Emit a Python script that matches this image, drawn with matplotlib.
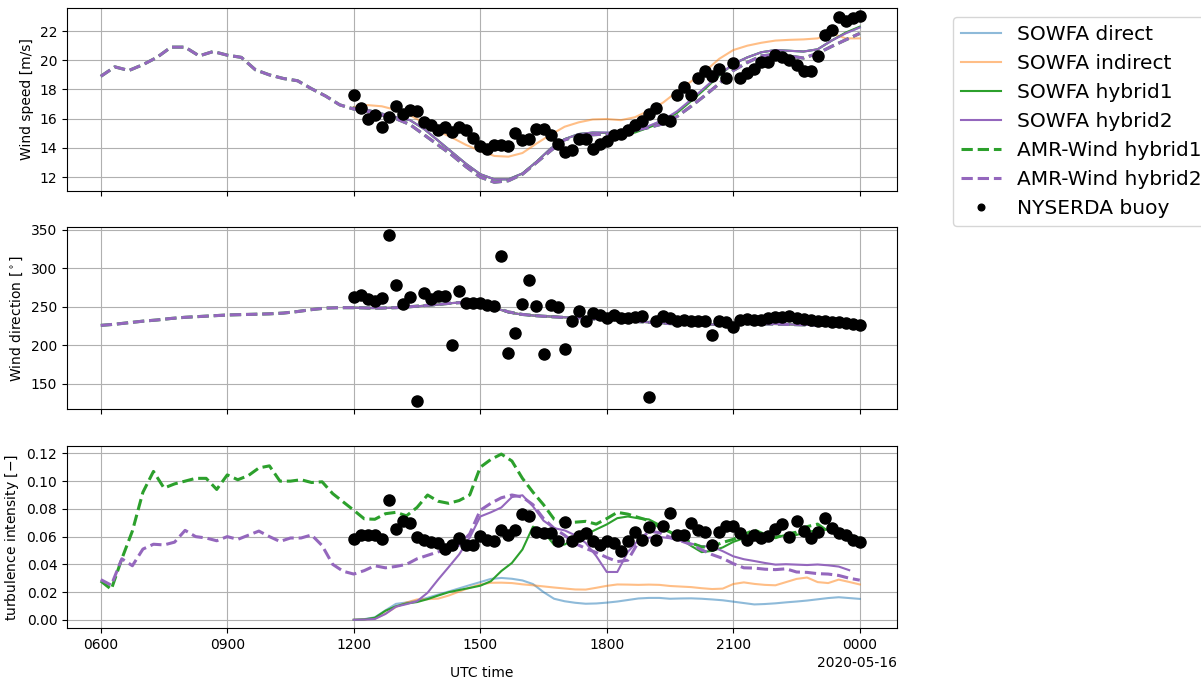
import numpy as np
import pandas as pd
import matplotlib
matplotlib.use('Agg')
import matplotlib.pyplot as plt
import matplotlib.dates as mdates
from matplotlib.ticker import MultipleLocator, FormatStrFormatter

# --- datos ---
# tiempos (UTC, 2020-05-15 -> 2020-05-16)
t_buoy = pd.date_range('2020-05-15 12:00', '2020-05-16 00:00', freq='10min')
t_sowfa = pd.date_range('2020-05-15 12:00', '2020-05-16 00:00', freq='20min')
t_amr = pd.date_range('2020-05-15 06:00', '2020-05-16 00:00', freq='20min')
t_sowfa_ti = pd.date_range('2020-05-15 12:00', '2020-05-16 00:00', freq='15min')
t_amr_ti = pd.date_range('2020-05-15 06:00', '2020-05-16 00:00', freq='15min')

# boya NYSERDA
buoy_ws = [17.6, 16.7, 16.0, 16.25, 15.4, 16.1, 16.9, 16.3, 16.6, 16.5, 15.8, 15.6,
           15.2, 15.4, 15.1, 15.45, 15.2, 14.65, 14.1, 13.9, 14.2, 14.2, 14.15, 15.0,
           14.55, 14.6, 15.3, 15.3, 14.85, 14.3, 13.7, 13.85, 14.6, 14.6, 13.9, 14.3,
           14.5, 14.9, 14.95, 15.2, 15.6, 15.85, 16.3, 16.7, 16.0, 15.85, 17.65, 18.15,
           17.65, 18.8, 19.3, 18.9, 19.4, 18.8, 19.8, 18.8, 19.15, 19.4, 19.9, 19.85,
           20.35, 20.25, 20.0, 19.7, 19.3, 19.3, 20.3, 21.7, 22.1, 22.95, 22.7, 22.9, 23.0]
buoy_wd = [263.0, 265.2, 260.9, 258.3, 261.7, 343.0, 278.7, 253.9, 262.6, 127.8, 268.3, 260.9,
           263.9, 263.9, 200.9, 270.4, 255.2, 255.2, 255.2, 252.2, 250.9, 316.1, 190.0, 216.1,
           254.3, 284.3, 251.7, 188.7, 252.6, 250.0, 194.8, 231.3, 245.2, 231.3, 242.2, 239.1,
           235.7, 240.0, 235.2, 235.2, 236.5, 238.7, 133.5, 231.7, 237.8, 236.1, 231.7, 233.0,
           231.7, 231.7, 232.2, 213.9, 231.3, 230.4, 223.5, 233.5, 233.9, 232.6, 233.0, 235.2,
           236.5, 237.0, 238.3, 236.1, 234.3, 233.0, 231.7, 231.7, 230.9, 230.0, 229.1, 228.3, 227.0]
buoy_ti = [0.0584, 0.0608, 0.0615, 0.0615, 0.0584, 0.0861, 0.0656, 0.0716, 0.0700, 0.0599, 0.0572, 0.0560,
           0.0551, 0.0512, 0.0543, 0.0587, 0.0536, 0.0536, 0.0603, 0.0579, 0.0567, 0.0651, 0.0615, 0.0647,
           0.0760, 0.0748, 0.0632, 0.0627, 0.0627, 0.0567, 0.0707, 0.0567, 0.0603, 0.0627, 0.0567, 0.0536,
           0.0567, 0.0551, 0.0495, 0.0567, 0.0632, 0.0575, 0.0668, 0.0575, 0.0680, 0.0772, 0.0608, 0.0608,
           0.0695, 0.0651, 0.0632, 0.0543, 0.0632, 0.0675, 0.0675, 0.0627, 0.0579, 0.0615, 0.0591, 0.0603,
           0.0656, 0.0692, 0.0596, 0.0712, 0.0640, 0.0587, 0.0632, 0.0736, 0.0663, 0.0627, 0.0615, 0.0575, 0.0560]

# SOWFA velocidad (cada 20 min)
ws_direct = [16.75, 16.6, 16.35, 16.1, 15.9, 15.3, 14.5, 13.7, 12.9, 12.2, 11.85, 11.85,
             12.25, 13.05, 13.95, 14.6, 14.95, 15.05, 15.05, 15.05, 15.15, 15.5, 15.9, 16.5,
             17.3, 18.15, 19.0, 19.75, 20.2, 20.55, 20.7, 20.65, 20.6, 20.75, 21.35, 21.85, 22.25]
ws_indirect = [16.8, 16.93, 16.85, 16.6, 16.25, 15.7, 15.15, 14.7, 14.2, 13.8, 13.45, 13.4,
               13.65, 14.3, 14.9, 15.45, 15.75, 15.95, 15.98, 15.9, 16.1, 16.55, 17.1, 17.85,
               18.55, 19.25, 20.1, 20.7, 21.0, 21.2, 21.35, 21.4, 21.43, 21.5, 21.84, 21.5, 21.5]
ws_hybrid1 = [16.75, 16.6, 16.35, 16.1, 15.9, 15.3, 14.5, 13.7, 12.9, 12.2, 11.85, 11.85,
              12.25, 13.05, 13.95, 14.6, 14.95, 15.05, 15.02, 15.0, 15.05, 15.4, 15.8, 16.4,
              17.2, 18.05, 18.95, 19.75, 20.2, 20.55, 20.7, 20.65, 20.6, 20.75, 21.35, 21.9, 22.3]
ws_hybrid2 = [16.75, 16.6, 16.35, 16.1, 15.9, 15.3, 14.5, 13.7, 12.9, 12.2, 11.85, 11.85,
              12.25, 13.05, 13.95, 14.6, 14.95, 15.05, 15.05, 15.05, 15.15, 15.5, 15.9, 16.5,
              17.3, 18.15, 19.0, 19.75, 20.2, 20.55, 20.7, 20.65, 20.6, 20.75, 21.35, 21.85, 22.25]
# AMR-Wind velocidad (cada 20 min, desde 06:00)
ws_amr = [18.9, 19.55, 19.3, 19.7, 20.2, 20.9, 20.9, 20.3, 20.6, 20.35, 20.2, 19.35,
          19.0, 18.75, 18.6, 18.05, 17.55, 16.95, 16.66, 16.5, 16.25, 16.0, 15.6, 14.9,
          14.2, 13.5, 12.7, 12.0, 11.65, 11.75, 12.2, 13.0, 13.8, 14.55, 14.85, 14.9,
          14.95, 15.0, 15.2, 15.4, 15.65, 16.15, 16.85, 17.6, 18.4, 19.3, 19.85, 20.3,
          20.4, 20.3, 20.15, 20.47, 20.95, 21.4, 21.84]

# direccion
wd_sowfa = [249, 248.5, 248.5, 249, 250, 251.5, 253, 255, 256, 254, 249, 243,
            240, 238.5, 237.5, 236.5, 235.5, 234.5, 233.5, 232.5, 231.3, 230, 228.8, 227.8,
            227.3, 227, 227.3, 228, 228.3, 228, 227.8, 227.3, 226.8, 226.2, 225.6, 225.4, 225.2]
wd_amr = [226, 227.5, 229.5, 231.5, 233, 235, 236.5, 237.5, 238.5, 239.5, 240, 240.5,
          241, 242, 244, 246.5, 248.5, 249, 249, 248.6, 248.5, 249, 250.2, 251.7,
          253.2, 255, 256, 254.5, 249.5, 243.5, 240.2, 238.5, 237.3, 236.3, 235.3, 234.4,
          233.4, 232.4, 231.2, 230, 228.8, 227.9, 227.3, 227.1, 227.4, 228, 228.2, 227.9,
          227.7, 227.2, 226.7, 226.1, 225.7, 225.4, 225.3]

# intensidad de turbulencia SOWFA (cada 15 min)
ti_direct = [0.0, 0.0005, 0.0018, 0.0068, 0.0115, 0.0125, 0.0138, 0.0159, 0.0182, 0.0204, 0.0227, 0.025,
             0.0272, 0.0295, 0.0302, 0.0296, 0.0284, 0.0258, 0.020, 0.0152, 0.0134, 0.0123, 0.0116, 0.0118,
             0.0124, 0.0132, 0.0143, 0.0154, 0.0158, 0.0158, 0.0152, 0.0154, 0.0155, 0.0152, 0.0147, 0.0141,
             0.0131, 0.0121, 0.0111, 0.0114, 0.0119, 0.0126, 0.0132, 0.0139, 0.0148, 0.0157, 0.0163, 0.0157, 0.0151]
ti_indirect = [0.0, 0.0003, 0.0008, 0.0045, 0.0092, 0.0125, 0.0147, 0.0149, 0.0153, 0.0175, 0.0204, 0.0232,
               0.0255, 0.0267, 0.0268, 0.0265, 0.0256, 0.0249, 0.0241, 0.0233, 0.0226, 0.0219, 0.0218, 0.0231,
               0.0245, 0.0255, 0.0254, 0.0252, 0.0254, 0.0252, 0.0244, 0.024, 0.0236, 0.0228, 0.0222, 0.0225,
               0.0258, 0.027, 0.0259, 0.0252, 0.0249, 0.0272, 0.0295, 0.0305, 0.0272, 0.0265, 0.029, 0.0273, 0.0255]
ti_hybrid1 = [0.0, 0.0003, 0.0015, 0.0065, 0.0098, 0.0118, 0.0128, 0.0149, 0.0175, 0.0199, 0.0215, 0.023,
              0.0246, 0.0278, 0.0352, 0.041, 0.0507, 0.0672, 0.0635, 0.0541, 0.0543, 0.0585, 0.0614, 0.0652,
              0.0688, 0.0733, 0.0745, 0.0732, 0.0724, 0.0685, 0.0635, 0.0584, 0.0533, 0.0488, 0.0497, 0.0522,
              0.0562, 0.0588, 0.0586, 0.0599, 0.0595, 0.0612, 0.0612, 0.0634, 0.0646, 0.065, 0.0642, 0.0603, 0.0591]
ti_hybrid2 = [0.0, 0.0002, 0.0006, 0.0042, 0.0095, 0.0113, 0.0134, 0.0195, 0.029, 0.038, 0.0472, 0.0592,
              0.0745, 0.0775, 0.081, 0.0885, 0.0898, 0.0818, 0.0715, 0.0661, 0.0645, 0.061, 0.0555, 0.046,
              0.0345, 0.0345, 0.049, 0.0575, 0.0592, 0.0598, 0.0588, 0.057, 0.055, 0.0531, 0.0528, 0.0495,
              0.0458, 0.0437, 0.0424, 0.041, 0.0398, 0.0401, 0.0398, 0.0395, 0.0399, 0.0393, 0.0384, 0.0358]
# intensidad de turbulencia AMR-Wind (cada 15 min, desde 06:00)
ti_amr1 = [0.028, 0.022, 0.044, 0.064, 0.092, 0.107, 0.095, 0.098, 0.100, 0.102, 0.102, 0.094,
           0.1045, 0.101, 0.104, 0.1095, 0.111, 0.100, 0.100, 0.101, 0.099, 0.0995, 0.091, 0.085,
           0.079, 0.0728, 0.0725, 0.0765, 0.0775, 0.075, 0.081, 0.090, 0.0855, 0.084, 0.086, 0.090,
           0.110, 0.1156, 0.1195, 0.1145, 0.102, 0.092, 0.083, 0.0726, 0.070, 0.0704, 0.071, 0.069,
           0.073, 0.0775, 0.0762, 0.0738, 0.0715, 0.0668, 0.0633, 0.0595, 0.0555, 0.0525, 0.0528, 0.0558,
           0.058, 0.0615, 0.0648, 0.0615, 0.0592, 0.0617, 0.0632, 0.0672, 0.069, 0.0635, 0.0641, 0.0612, 0.058]
ti_amr2 = [0.029, 0.025, 0.044, 0.039, 0.051, 0.0545, 0.054, 0.056, 0.0645, 0.060, 0.059, 0.057,
           0.060, 0.058, 0.061, 0.064, 0.060, 0.0565, 0.059, 0.059, 0.0612, 0.0535, 0.040, 0.035,
           0.033, 0.0355, 0.039, 0.0375, 0.0385, 0.040, 0.044, 0.0465, 0.049, 0.051, 0.054, 0.062,
           0.079, 0.084, 0.088, 0.090, 0.0885, 0.083, 0.073, 0.066, 0.061, 0.055, 0.0515, 0.0485,
           0.045, 0.042, 0.043, 0.056, 0.064, 0.0628, 0.0595, 0.057, 0.0543, 0.0505, 0.047, 0.0443,
           0.0405, 0.0375, 0.0373, 0.0365, 0.0362, 0.0368, 0.0345, 0.0342, 0.0333, 0.033, 0.032, 0.030, 0.0286]

# --- figura ---
fig, axs = plt.subplots(3, 1, sharex=True, figsize=(12.01, 6.82), dpi=100)
fig.subplots_adjust(left=0.0558, right=0.7469, top=0.988, bottom=0.079, hspace=0.2)

sowfa_style = dict(lw=1.5)
amr_style = dict(lw=2.2, ls='--')


def plot_panel(ax, d, ind, h1, h2, a1, a2, b, t_s, t_a):
    ax.plot(t_s[:len(d)], d, color='C0', alpha=0.5, label='SOWFA direct', **sowfa_style)
    ax.plot(t_s[:len(ind)], ind, color='C1', alpha=0.5, label='SOWFA indirect', **sowfa_style)
    ax.plot(t_s[:len(h1)], h1, color='C2', label='SOWFA hybrid1', **sowfa_style)
    ax.plot(t_s[:len(h2)], h2, color='C4', label='SOWFA hybrid2', **sowfa_style)
    ax.plot(t_a, a1, color='C2', label='AMR-Wind hybrid1', **amr_style)
    ax.plot(t_a, a2, color='C4', label='AMR-Wind hybrid2', **amr_style)
    ax.plot(t_buoy, b, 'o', color='k', ms=8, label='NYSERDA buoy', zorder=5)
    ax.grid(True)


plot_panel(axs[0], ws_direct, ws_indirect, ws_hybrid1, ws_hybrid2,
           ws_amr, ws_amr, buoy_ws, t_sowfa, t_amr)
plot_panel(axs[1], wd_sowfa, wd_sowfa, wd_sowfa, wd_sowfa,
           wd_amr, wd_amr, buoy_wd, t_sowfa, t_amr)
plot_panel(axs[2], ti_direct, ti_indirect, ti_hybrid1, ti_hybrid2,
           ti_amr1, ti_amr2, buoy_ti, t_sowfa_ti, t_amr_ti)

axs[0].set_ylabel('Wind speed [m/s]')
axs[1].set_ylabel(r'Wind direction [$^\circ$]')
axs[2].set_ylabel(r'turbulence intensity [$-$]')
axs[2].set_xlabel('UTC time', labelpad=10)

axs[0].yaxis.set_major_locator(MultipleLocator(2))
axs[2].yaxis.set_major_locator(MultipleLocator(0.02))
axs[2].yaxis.set_major_formatter(FormatStrFormatter('%.2f'))

# eje de tiempo: HHMM y fecha como offset
axs[2].set_xlim(pd.Timestamp('2020-05-15 05:12'), pd.Timestamp('2020-05-16 00:53'))
loc = mdates.HourLocator(byhour=range(0, 24, 3))
fmt = mdates.ConciseDateFormatter(
    loc,
    formats=['%Y', '%b', '%d', '%H%M', '%H%M', '%S.%f'],
    zero_formats=['', '%Y', '%b', '%H%M', '%H%M', '%H%M'],
    offset_formats=['', '%Y', '%Y-%m', '%Y-%m-%d', '%Y-%m-%d', '%Y-%m-%d %H:%M'])
axs[2].xaxis.set_major_locator(loc)
axs[2].xaxis.set_major_formatter(fmt)

handles, labels = axs[0].get_legend_handles_labels()
fig.legend(handles, labels, loc='upper left', bbox_to_anchor=(0.785, 0.99),
           fontsize=14.5, markerscale=0.6)

plt.savefig('out.png', dpi=100)
